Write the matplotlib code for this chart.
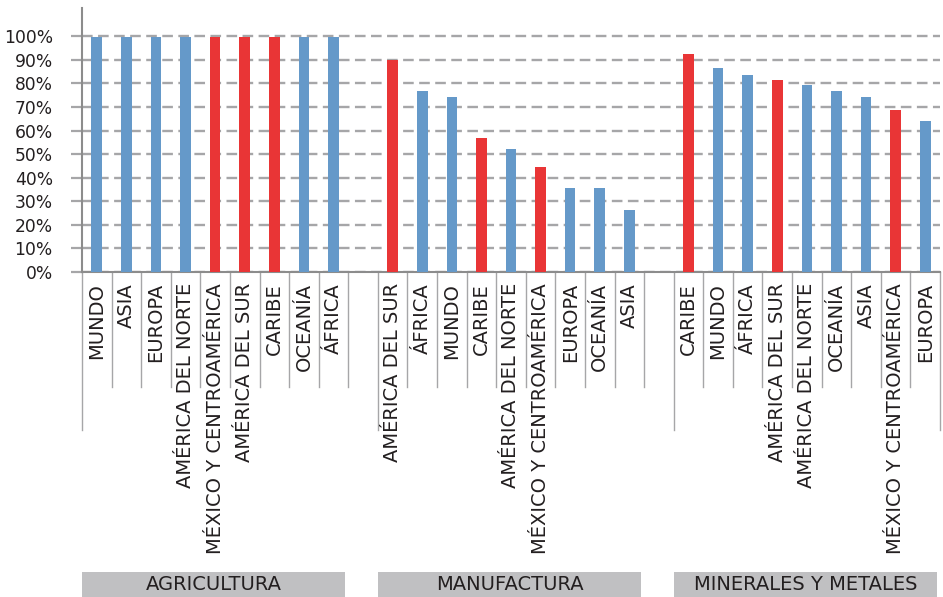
import numpy as np
import matplotlib
matplotlib.use("Agg")
import matplotlib.pyplot as plt
from matplotlib.patches import Rectangle
from matplotlib.transforms import blended_transform_factory

# datos por sector (porcentaje)
sectores = ["AGRICULTURA", "MANUFACTURA", "MINERALES Y METALES"]

regiones_agri = ["MUNDO", "ASIA", "EUROPA", "AMÉRICA DEL NORTE",
                 "MÉXICO Y CENTROAMÉRICA", "AMÉRICA DEL SUR", "CARIBE",
                 "OCEANÍA", "ÁFRICA"]
valores_agri = [99.6, 99.6, 99.6, 99.6, 99.6, 99.6, 99.6, 99.6, 99.6]

regiones_manu = ["AMÉRICA DEL SUR", "ÁFRICA", "MUNDO", "CARIBE",
                 "AMÉRICA DEL NORTE", "MÉXICO Y CENTROAMÉRICA", "EUROPA",
                 "OCEANÍA", "ASIA"]
valores_manu = [90.1, 76.9, 74.3, 56.9, 52.2, 44.5, 35.6, 35.6, 26.2]

regiones_mine = ["CARIBE", "MUNDO", "ÁFRICA", "AMÉRICA DEL SUR",
                 "AMÉRICA DEL NORTE", "OCEANÍA", "ASIA",
                 "MÉXICO Y CENTROAMÉRICA", "EUROPA"]
valores_mine = [92.6, 86.7, 83.7, 81.6, 79.4, 76.9, 74.3, 68.8, 64.1]

# regiones resaltadas en rojo
destacadas = ["MÉXICO Y CENTROAMÉRICA", "AMÉRICA DEL SUR", "CARIBE"]

AZUL = "#6599C9"
ROJO = "#E93536"
GRIS = "#A6A6A8"
TEXTO = "#231F20"

plt.rcParams["font.family"] = ["DejaVu Sans"]

fig = plt.figure(figsize=(9.43, 5.97), dpi=100)
ax = fig.add_axes([82 / 943, 1 - 272 / 597, 858 / 943, 264 / 597])

grupos = [(regiones_agri, valores_agri),
          (regiones_manu, valores_manu),
          (regiones_mine, valores_mine)]

trans = blended_transform_factory(ax.transData, ax.transAxes)
n_slots = 0
inicios = []
for gi, (regiones, valores) in enumerate(grupos):
    x0 = gi * 10
    inicios.append(x0)
    xs = x0 + np.arange(len(regiones))
    colores = [ROJO if r in destacadas else AZUL for r in regiones]
    ax.bar(xs, valores, width=0.36, color=colores, zorder=3)
    for x, r in zip(xs, regiones):
        ax.text(x, -0.042, r, rotation=90, ha="center", va="top",
                fontsize=14, color=TEXTO, transform=trans)
    n_slots = x0 + len(regiones)

ax.set_xlim(-0.5, n_slots - 0.5)
ax.set_ylim(0, 112)
ax.set_yticks(np.arange(0, 101, 10))
ax.set_yticklabels([f"{v}%" for v in range(0, 101, 10)], fontsize=12.3,
                   color=TEXTO)
ax.set_xticks([])
ax.tick_params(axis="y", length=8, width=1.6, color=GRIS, pad=13)

ax.yaxis.grid(True, color=GRIS, linewidth=1.7, dashes=(4.5, 2.3), zorder=0)
ax.set_axisbelow(True)

for lado in ["top", "right"]:
    ax.spines[lado].set_visible(False)
for lado in ["left", "bottom"]:
    ax.spines[lado].set_color("#8C8C8C")
    ax.spines[lado].set_linewidth(1.5)

# separadores entre categorías; los límites de grupo son más largos
limites_grupo = [i - 0.5 for i in inicios] + [n_slots - 0.5]
for b in np.arange(-0.5, n_slots, 1.0):
    largo = -0.598 if b in limites_grupo else -0.436
    ax.plot([b, b], [0, largo], color=GRIS, linewidth=1.0,
            transform=trans, clip_on=False, zorder=1)

# cajas con el nombre de cada sector
for x0, nombre in zip(inicios, sectores):
    ax.add_patch(Rectangle((x0 - 0.5, -1.231), 8.9, 0.095,
                           transform=trans, clip_on=False,
                           facecolor="#C0C0C2", edgecolor="none"))
    ax.text(x0 - 0.5 + 4.45, -1.183, nombre, ha="center", va="center",
            fontsize=14, color=TEXTO, transform=trans)

fig.savefig("out.png", dpi=100)
